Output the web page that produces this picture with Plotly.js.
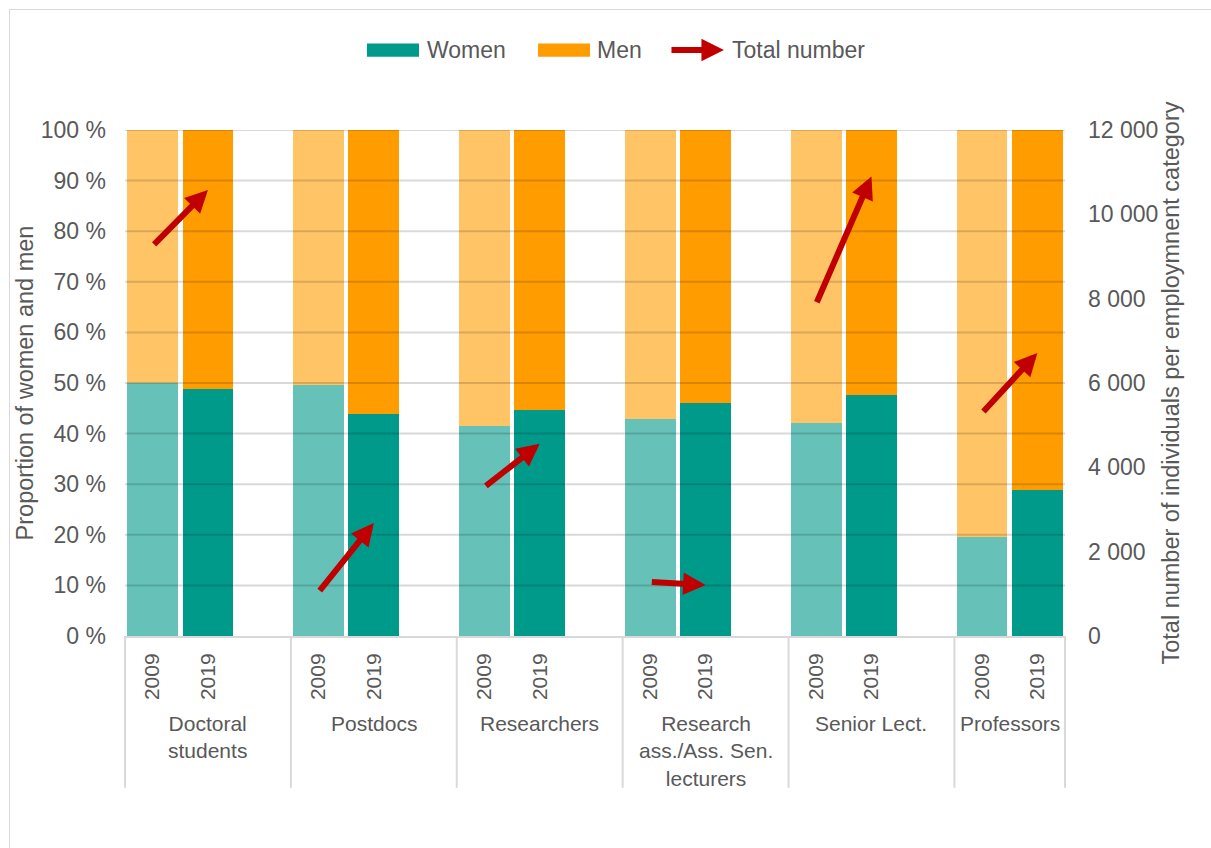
<!DOCTYPE html>
<html>
<head>
<meta charset="utf-8">
<script src="https://cdn.plot.ly/plotly-3.0.1.min.js"></script>
<style>
  html, body { margin: 0; padding: 0; background: #ffffff; overflow: hidden; }
  #wrap { position: relative; width: 1211px; height: 848px; overflow: hidden; }
  #frame { position: absolute; left: 9px; top: 9px; width: 1400px; height: 1000px;
           border: 1px solid #d9d9d9; box-sizing: border-box; pointer-events: none; }
  #chart { position: absolute; left: 0; top: 0; width: 1211px; height: 848px; }
</style>
</head>
<body>
<div id="wrap">
  <div id="chart"></div>
  <div id="frame"></div>
</div>
<script>
// Employment categories and survey years
const categories = [
  "Doctoral<br>students",
  "Postdocs",
  "Researchers",
  "Research<br>ass./Ass. Sen.<br>lecturers",
  "Senior Lect.",
  "Professors"
];
const years = ["2009", "2019"];

// Share of women and men (%) per category and year
const women2009 = [50.0, 49.6, 41.5, 42.8, 42.0, 19.6];
const women2019 = [48.8, 43.8, 44.6, 46.0, 47.6, 28.9];
const men2009   = [50.0, 50.4, 58.5, 57.2, 58.0, 80.4];
const men2019   = [51.2, 56.2, 55.4, 54.0, 52.4, 71.1];

// Total number of individuals per category
const total2009 = [9250, 1040, 3530, 1280, 7880, 5290];
const total2019 = [10580, 2680, 4560, 1210, 10900, 6710];

// Left axis ticks (%) and right axis ticks (count)
const pctTicks = [0, 10, 20, 30, 40, 50, 60, 70, 80, 90, 100];
const countTicks = [0, 2000, 4000, 6000, 8000, 10000, 12000];

// Each category takes three slots: 2009, 2019 and a spacer
const SLOT = 3;
const pos = (c, yi) => c * SLOT + yi;
const nSlots = categories.length * SLOT - 1;
const xRange = [-0.5, nSlots - 0.5];
const toPaperX = v => (v - xRange[0]) / (xRange[1] - xRange[0]);

const colors = {
  women: ["#66c2b9", "#009a8b"],
  men:   ["#ffc466", "#ff9c00"],
  arrow: "#c00000",
  text:  "#595959",
  line:  "#d9d9d9"
};

const xs = [], ticktext = [], wVals = [], mVals = [], wCols = [], mCols = [];
categories.forEach((c, i) => {
  [[women2009, men2009], [women2019, men2019]].forEach((pair, yi) => {
    xs.push(pos(i, yi));
    ticktext.push(years[yi]);
    wVals.push(pair[0][i]);
    mVals.push(pair[1][i]);
    wCols.push(colors.women[yi]);
    mCols.push(colors.men[yi]);
  });
});

const traces = [
  { type: "bar", name: "Women", x: xs, y: wVals, width: 0.92,
    marker: { color: wCols, line: { width: 0 } }, hoverinfo: "y+name" },
  { type: "bar", name: "Men", x: xs, y: mVals, width: 0.92,
    marker: { color: mCols, line: { width: 0 } }, hoverinfo: "y+name" },
  // invisible trace that activates the right-hand count axis
  { type: "scatter", mode: "markers", x: [xs[0]], y: [0], yaxis: "y2",
    marker: { opacity: 0 }, hoverinfo: "skip", showlegend: false }
];

const shapes = [];
const annotations = [];

// Gridlines drawn above the bars
pctTicks.filter(v => v > 0).forEach(v => {
  shapes.push({ type: "line", layer: "above", xref: "paper", yref: "y",
    x0: 0, x1: 1, y0: v, y1: v,
    line: { color: "rgba(0,0,0,0.15)", width: 2 } });
});

// Category dividers below the axis
const bounds = [];
for (let i = 0; i <= categories.length; i++) {
  bounds.push(i === categories.length ? xRange[1] : i * SLOT - 0.5);
}
bounds.forEach(b => {
  shapes.push({ type: "line", xref: "paper", yref: "paper",
    x0: toPaperX(b), x1: toPaperX(b), y0: 0, y1: -0.30,
    line: { color: colors.line, width: 2 } });
});

// Category labels, centred in each category's span
categories.forEach((c, i) => {
  annotations.push({ xref: "x", yref: "paper", x: (bounds[i] + bounds[i + 1]) / 2, y: -0.146,
    xanchor: "center", yanchor: "top", showarrow: false, text: c,
    font: { size: 21, color: colors.text } });
});

// Arrows showing change in total number 2009 -> 2019
categories.forEach((c, i) => {
  annotations.push({ xref: "x", yref: "y2", axref: "x", ayref: "y2",
    x: pos(i, 1), y: total2019[i], ax: pos(i, 0), ay: total2009[i],
    text: "", showarrow: true, arrowhead: 2, arrowsize: 0.75, arrowwidth: 6,
    arrowcolor: colors.arrow, standoff: 0, startstandoff: 0 });
});

// Legend
const legY = 1.158;
shapes.push({ type: "rect", xref: "paper", yref: "paper", x0: 0.2574, x1: 0.3128,
  y0: legY - 0.013, y1: legY + 0.013, fillcolor: colors.women[1], line: { width: 0 } });
shapes.push({ type: "rect", xref: "paper", yref: "paper", x0: 0.4394, x1: 0.4947,
  y0: legY - 0.013, y1: legY + 0.013, fillcolor: colors.men[1], line: { width: 0 } });
annotations.push({ xref: "paper", yref: "paper", x: 0.3191, y: legY, xanchor: "left",
  yanchor: "middle", showarrow: false, text: "Women", font: { size: 23, color: colors.text } });
annotations.push({ xref: "paper", yref: "paper", x: 0.5, y: legY, xanchor: "left",
  yanchor: "middle", showarrow: false, text: "Men", font: { size: 23, color: colors.text } });
annotations.push({ xref: "paper", yref: "paper", x: 0.6372, y: legY, ax: -54, ay: 0,
  text: "", showarrow: true, arrowhead: 2, arrowsize: 0.75, arrowwidth: 6,
  arrowcolor: colors.arrow, standoff: 0 });
annotations.push({ xref: "paper", yref: "paper", x: 0.6436, y: legY, xanchor: "left",
  yanchor: "middle", showarrow: false, text: "Total number", font: { size: 23, color: colors.text } });

const layout = {
  width: 1211, height: 848,
  margin: { l: 125, r: 146, t: 130, b: 212, pad: 0 },
  paper_bgcolor: "rgba(0,0,0,0)", plot_bgcolor: "#ffffff",
  font: { family: "Liberation Sans, Arial, sans-serif", color: colors.text },
  separators: ". ",
  barmode: "stack",
  showlegend: false,
  xaxis: {
    range: xRange, tickmode: "array", tickvals: xs, ticktext: ticktext,
    tickangle: -90, ticks: "", showgrid: false, zeroline: false,
    showline: true, linecolor: colors.line, linewidth: 2,
    tickfont: { size: 21, color: colors.text }, ticklabelstandoff: 7,
    automargin: false, fixedrange: true
  },
  yaxis: {
    range: [0, 100], tickmode: "array", tickvals: pctTicks,
    ticktext: pctTicks.map(v => v + " %"),
    showgrid: false, zeroline: false, ticks: "",
    tickfont: { size: 23, color: colors.text }, ticklabelstandoff: 18,
    title: { text: "Proportion of women and men", font: { size: 23.5, color: colors.text }, standoff: 0 },
    automargin: false, fixedrange: true
  },
  yaxis2: {
    overlaying: "y", side: "right", range: [0, 12000],
    tickmode: "array", tickvals: countTicks, tickformat: ",d",
    showgrid: false, zeroline: false, ticks: "",
    tickfont: { size: 23, color: colors.text }, ticklabelstandoff: 22,
    title: { text: "Total number of individuals per employmnent category", font: { size: 23.5, color: colors.text }, standoff: 0 },
    automargin: false, fixedrange: true
  },
  shapes: shapes,
  annotations: annotations
};

Plotly.newPlot("chart", traces, layout, { displayModeBar: false, staticPlot: true });
</script>
</body>
</html>
